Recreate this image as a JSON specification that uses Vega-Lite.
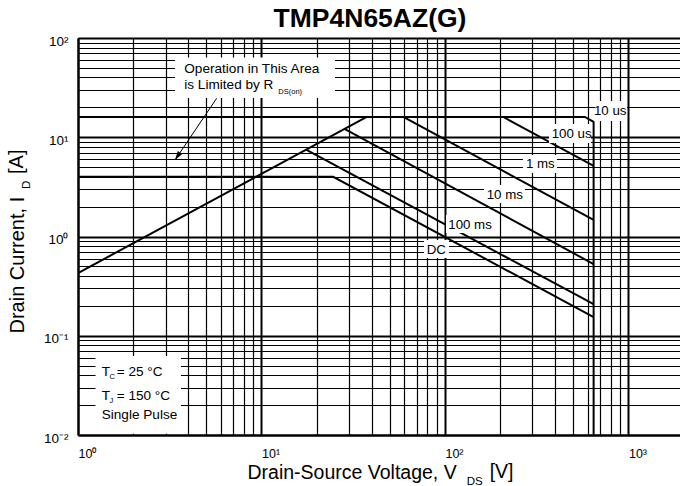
{
  "$schema": "https://vega.github.io/schema/vega-lite/v6.json",
  "width": 602,
  "height": 397,
  "autosize": {"type": "none"},
  "padding": {"left": 78, "top": 38, "right": 0, "bottom": 51},
  "background": "white",
  "config": {
    "font": "Liberation Sans",
    "view": {"stroke": "black", "strokeWidth": 1}
  },
  "title": {
    "text": "TMP4N65AZ(G)",
    "font": "Liberation Sans",
    "fontSize": 26.5,
    "fontWeight": "bold",
    "color": "black",
    "anchor": "middle",
    "frame": "group",
    "baseline": "alphabetic",
    "offset": 8.5,
    "dx": -9,
    "dy": 28
  },
  "datasets": {
    "curves": [
      {"s": "rds", "i": 0, "x": 1, "y": 0.428},
      {"s": "rds", "i": 1, "x": 37.5, "y": 16},
      {"s": "10us", "i": 0, "x": 1, "y": 16},
      {"s": "10us", "i": 1, "x": 579, "y": 16},
      {"s": "10us", "i": 2, "x": 642, "y": 14.4},
      {"s": "10us", "i": 3, "x": 646, "y": 14.2},
      {"s": "10us", "i": 4, "x": 646, "y": 0.01},
      {"s": "100us", "i": 0, "x": 208, "y": 16},
      {"s": "100us", "i": 1, "x": 646, "y": 5.14},
      {"s": "1ms", "i": 0, "x": 59.3, "y": 16},
      {"s": "1ms", "i": 1, "x": 646, "y": 1.47},
      {"s": "10ms", "i": 0, "x": 28.5, "y": 12.1},
      {"s": "10ms", "i": 1, "x": 646, "y": 0.527},
      {"s": "100ms", "i": 0, "x": 17.6, "y": 7.45},
      {"s": "100ms", "i": 1, "x": 646, "y": 0.208},
      {"s": "dc", "i": 0, "x": 1, "y": 4},
      {"s": "dc", "i": 1, "x": 24.6, "y": 4},
      {"s": "dc", "i": 2, "x": 646, "y": 0.154}
    ],
    "boxes": [
      {"x": 3.38, "x2": 25.15, "y": 63.6, "y2": 24.9},
      {"x": 1.2455, "x2": 3.641, "y": 0.0625, "y2": 0.0103},
      {"x": 656.9, "x2": 981.4, "y": 23.19, "y2": 14.58},
      {"x": 368.7, "x2": 624.7, "y": 13.6, "y2": 8.751},
      {"x": 266.1, "x2": 407.7, "y": 6.625, "y2": 4.363},
      {"x": 163.2, "x2": 272.9, "y": 3.304, "y2": 2.176},
      {"x": 101.3, "x2": 189.7, "y": 1.6465, "y2": 1.0846},
      {"x": 76.85, "x2": 105.1, "y": 0.922, "y2": 0.6073}
    ],
    "arrow": [
      {"i": 0, "x": 5.7, "y": 24.69},
      {"i": 1, "x": 3.379, "y": 5.899}
    ],
    "head": [{"x": 3.379, "y": 5.899}],
    "labels": [
      {"t": "10 us", "x": 648.7, "y": 16.75},
      {"t": "100 us", "x": 381.4, "y": 9.759},
      {"t": "1 ms", "x": 276.3, "y": 4.866},
      {"t": "10 ms", "x": 168.8, "y": 2.387},
      {"t": "100 ms", "x": 104.2, "y": 1.19},
      {"t": "DC", "x": 79.5, "y": 0.6662}
    ],
    "notes": [
      {"t": "Operation in This Area", "x": 3.795, "y": 44.7},
      {"t": "is Limited by R", "x": 3.795, "y": 30.4},
      {"t": "T", "x": 1.3467, "y": 0.0393},
      {"t": "= 25 °C", "x": 1.6253, "y": 0.0393},
      {"t": "T", "x": 1.3467, "y": 0.02253},
      {"t": "= 150 °C", "x": 1.6253, "y": 0.02253},
      {"t": "Single Pulse", "x": 1.3467, "y": 0.0145}
    ],
    "subs": [
      {"t": "DS(on)", "x": 12.35, "y": 27.28},
      {"t": "C", "x": 1.4843, "y": 0.03665},
      {"t": "J", "x": 1.4843, "y": 0.02101}
    ],
    "xsub": [{"t": "DS", "x": 131.3, "y": 0.003171}],
    "ysub": [{"t": "D", "x": 0.5475, "y": 3.011}],
    "xunit": [{"t": "[V]", "x": 175.3, "y": 0.003688}],
    "yunit": [{"t": "[A]", "x": 0.5015, "y": 4.264}]
  },
  "encoding": {
    "x": {
      "field": "x",
      "type": "quantitative",
      "scale": {"type": "log", "domain": [1, 1910], "nice": false},
      "axis": {
        "values": [1, 2, 3, 4, 5, 6, 7, 8, 9, 10, 20, 30, 40, 50, 60, 70, 80, 90, 100, 200, 300, 400, 500, 600, 700, 800, 900, 1000],
        "title": "Drain-Source Voltage, V",
        "titleFont": "Liberation Sans",
        "titleFontSize": 19.5,
        "titleFontWeight": "normal",
        "titleColor": "black",
        "titleAlign": "left",
        "titleX": 169,
        "titleY": 43,
        "titleBaseline": "alphabetic",
        "labelExpr": "datum.value == 1 ? '10⁰' : datum.value == 10 ? '10¹' : datum.value == 100 ? '10²' : datum.value == 1000 ? '10³' : ''",
        "labelFont": "Liberation Sans",
        "labelFontSize": 12.5,
        "labelColor": "black",
        "labelAlign": "left",
        "labelDx": -7,
        "labelBaseline": "alphabetic",
        "labelPadding": 22,
        "labelFlush": false,
        "labelOverlap": false,
        "labelBound": false,
        "ticks": false,
        "domainColor": "black",
        "domainWidth": 2,
        "grid": true,
        "gridColor": "black",
        "gridOpacity": 1,
        "gridWidth": {"condition": {"test": "datum.value == 1 || datum.value == 10 || datum.value == 100 || datum.value == 1000", "value": 2}, "value": 1.2}
      }
    },
    "y": {
      "field": "y",
      "type": "quantitative",
      "scale": {"type": "log", "domain": [0.01, 100], "nice": false},
      "axis": {
        "values": [0.01, 0.02, 0.03, 0.04, 0.05, 0.06, 0.07, 0.08, 0.09, 0.1, 0.2, 0.3, 0.4, 0.5, 0.6, 0.7, 0.8, 0.9, 1, 2, 3, 4, 5, 6, 7, 8, 9, 10, 20, 30, 40, 50, 60, 70, 80, 90, 100],
        "title": "Drain Current, I",
        "titleFont": "Liberation Sans",
        "titleFontSize": 20,
        "titleFontWeight": "normal",
        "titleColor": "black",
        "titleAngle": 270,
        "titleAlign": "left",
        "titleX": -55,
        "titleY": 295,
        "titleBaseline": "alphabetic",
        "labelExpr": "datum.value == 0.01 ? '10⁻²' : datum.value == 0.1 ? '10⁻¹' : datum.value == 1 ? '10⁰' : datum.value == 10 ? '10¹' : datum.value == 100 ? '10²' : ''",
        "labelFont": "Liberation Sans",
        "labelFontSize": 13.5,
        "labelColor": "black",
        "labelAlign": "right",
        "labelBaseline": "alphabetic",
        "labelOffset": 7,
        "labelPadding": 10,
        "labelFlush": false,
        "labelOverlap": false,
        "labelBound": false,
        "ticks": false,
        "domainColor": "black",
        "domainWidth": 2,
        "grid": true,
        "gridColor": "black",
        "gridOpacity": 1,
        "gridWidth": {"condition": {"test": "datum.value == 0.01 || datum.value == 0.1 || datum.value == 1 || datum.value == 10 || datum.value == 100", "value": 2}, "value": 1.2}
      }
    }
  },
  "layer": [
    {
      "data": {"name": "curves"},
      "mark": {"type": "line", "color": "black", "strokeWidth": 2, "clip": true},
      "encoding": {
        "detail": {"field": "s"},
        "order": {"field": "i", "type": "quantitative"}
      }
    },
    {
      "data": {"name": "boxes"},
      "mark": {"type": "rect", "fill": "white", "strokeWidth": 0, "opacity": 1},
      "encoding": {
        "x2": {"field": "x2"},
        "y2": {"field": "y2"}
      }
    },
    {
      "data": {"name": "arrow"},
      "mark": {"type": "line", "color": "black", "strokeWidth": 1},
      "encoding": {"order": {"field": "i", "type": "quantitative"}}
    },
    {
      "data": {"name": "head"},
      "mark": {"type": "point", "shape": "M0,0L0.3,1L-0.3,1Z", "filled": true, "fill": "black", "strokeWidth": 0, "opacity": 1, "size": 324, "angle": 214}
    },
    {
      "data": {"name": "labels"},
      "mark": {"type": "text", "align": "left", "baseline": "alphabetic", "fontSize": 13.3, "color": "black", "font": "Liberation Sans"},
      "encoding": {"text": {"field": "t"}}
    },
    {
      "data": {"name": "notes"},
      "mark": {"type": "text", "align": "left", "baseline": "alphabetic", "fontSize": 13.6, "color": "black", "font": "Liberation Sans"},
      "encoding": {"text": {"field": "t"}}
    },
    {
      "data": {"name": "subs"},
      "mark": {"type": "text", "align": "left", "baseline": "alphabetic", "fontSize": 7.5, "color": "black", "font": "Liberation Sans"},
      "encoding": {"text": {"field": "t"}}
    },
    {
      "data": {"name": "xsub"},
      "mark": {"type": "text", "align": "left", "baseline": "alphabetic", "fontSize": 11.5, "color": "black", "font": "Liberation Sans"},
      "encoding": {"text": {"field": "t"}}
    },
    {
      "data": {"name": "ysub"},
      "mark": {"type": "text", "align": "left", "baseline": "alphabetic", "fontSize": 11.5, "color": "black", "font": "Liberation Sans", "angle": 270},
      "encoding": {"text": {"field": "t"}}
    },
    {
      "data": {"name": "xunit"},
      "mark": {"type": "text", "align": "left", "baseline": "alphabetic", "fontSize": 19.5, "color": "black", "font": "Liberation Sans"},
      "encoding": {"text": {"field": "t"}}
    },
    {
      "data": {"name": "yunit"},
      "mark": {"type": "text", "align": "left", "baseline": "alphabetic", "fontSize": 20, "color": "black", "font": "Liberation Sans", "angle": 270},
      "encoding": {"text": {"field": "t"}}
    }
  ]
}
